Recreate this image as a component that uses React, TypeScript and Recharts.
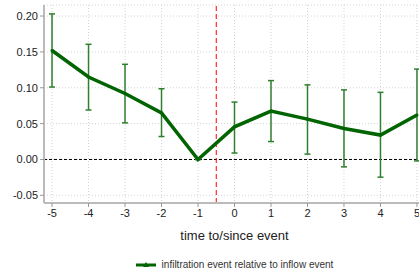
import React from 'react';
import {
  ComposedChart,
  Line,
  XAxis,
  YAxis,
  CartesianGrid,
  ReferenceLine,
  ErrorBar,
  Legend,
} from 'recharts';

const periods = [-5, -4, -3, -2, -1, 0, 1, 2, 3, 4, 5];
const estimates = [0.152, 0.115, 0.092, 0.065, 0.0, 0.0455, 0.0675, 0.0563, 0.0433, 0.034, 0.062];
const ciLow = [0.101, 0.069, 0.051, 0.032, 0.0, 0.009, 0.025, 0.0075, -0.0103, -0.0247, -0.002];
const ciHigh = [0.203, 0.1606, 0.1327, 0.0986, 0.0, 0.08, 0.11, 0.104, 0.097, 0.0936, 0.126];
const yTicks = [-0.05, 0, 0.05, 0.1, 0.15, 0.2];
const xTicks = periods;

const seriesName = 'infiltration event relative to inflow event';
const lineColor = '#006400';
const barColor = '#2f7f2f';

const data = periods.map((t, i) => ({
  t,
  est: estimates[i],
  err: [estimates[i] - ciLow[i], ciHigh[i] - estimates[i]],
}));

const LegendBox = () => (
  <div style={{ height: 30, display: 'flex', justifyContent: 'center', alignItems: 'flex-end' }}>
    <div style={{ display: 'flex', alignItems: 'center', paddingBottom: 3 }}>
      <svg width={20} height={8} style={{ marginRight: 6 }}>
        <line x1={0} y1={4} x2={20} y2={4} stroke={lineColor} strokeWidth={3} />
        <polygon points="10,1 13,6 7,6" fill={lineColor} />
      </svg>
      <span style={{ fontSize: 10, color: '#333' }}>{seriesName}</span>
    </div>
  </div>
);

export default function App() {
  return (
    <div
      style={{
        position: 'absolute',
        left: 0,
        top: 0,
        width: 419,
        height: 273,
        overflow: 'hidden',
        background: '#fff',
        fontFamily: '"Liberation Sans", Arial, sans-serif',
      }}
    >
      <ComposedChart
        width={432}
        height={273}
        data={data}
        margin={{ top: 5, right: 7, left: 0, bottom: 0 }}
      >
        <CartesianGrid stroke="#d4d4d4" strokeDasharray="1 2" />
        <XAxis
          type="number"
          dataKey="t"
          domain={[-5.22, 5.22]}
          ticks={xTicks}
          height={40}
          axisLine={{ stroke: '#bbbbbb', strokeWidth: 2 }}
          tickLine={{ stroke: '#999' }}
          tickSize={4}
          tick={{ fill: '#222', fontSize: 11 }}
          label={{ value: 'time to/since event', position: 'insideBottom', offset: 3, fill: '#222', fontSize: 13 }}
        />
        <YAxis
          type="number"
          domain={[-0.0607, 0.2154]}
          ticks={yTicks}
          width={44}
          axisLine={{ stroke: '#bbbbbb', strokeWidth: 2 }}
          tickLine={{ stroke: '#999' }}
          tickSize={4}
          tick={{ fill: '#222', fontSize: 11 }}
          tickFormatter={(v) => v.toFixed(2)}
        />
        <ReferenceLine y={0} stroke="#000" strokeDasharray="3 2" strokeWidth={1} />
        <ReferenceLine x={-0.5} stroke="#ff0000" strokeDasharray="5 3" strokeWidth={1} />
        <Legend
          verticalAlign="bottom"
          wrapperStyle={{ left: 44, width: 381 }}
          content={() => <LegendBox />}
        />
        <Line
          type="linear"
          dataKey="est"
          name={seriesName}
          stroke={lineColor}
          strokeWidth={3.5}
          dot={{ r: 1.5, fill: lineColor, stroke: 'none' }}
          isAnimationActive={false}
        >
          <ErrorBar dataKey="err" stroke={barColor} strokeWidth={1.5} width={3} />
        </Line>
      </ComposedChart>
    </div>
  );
}
